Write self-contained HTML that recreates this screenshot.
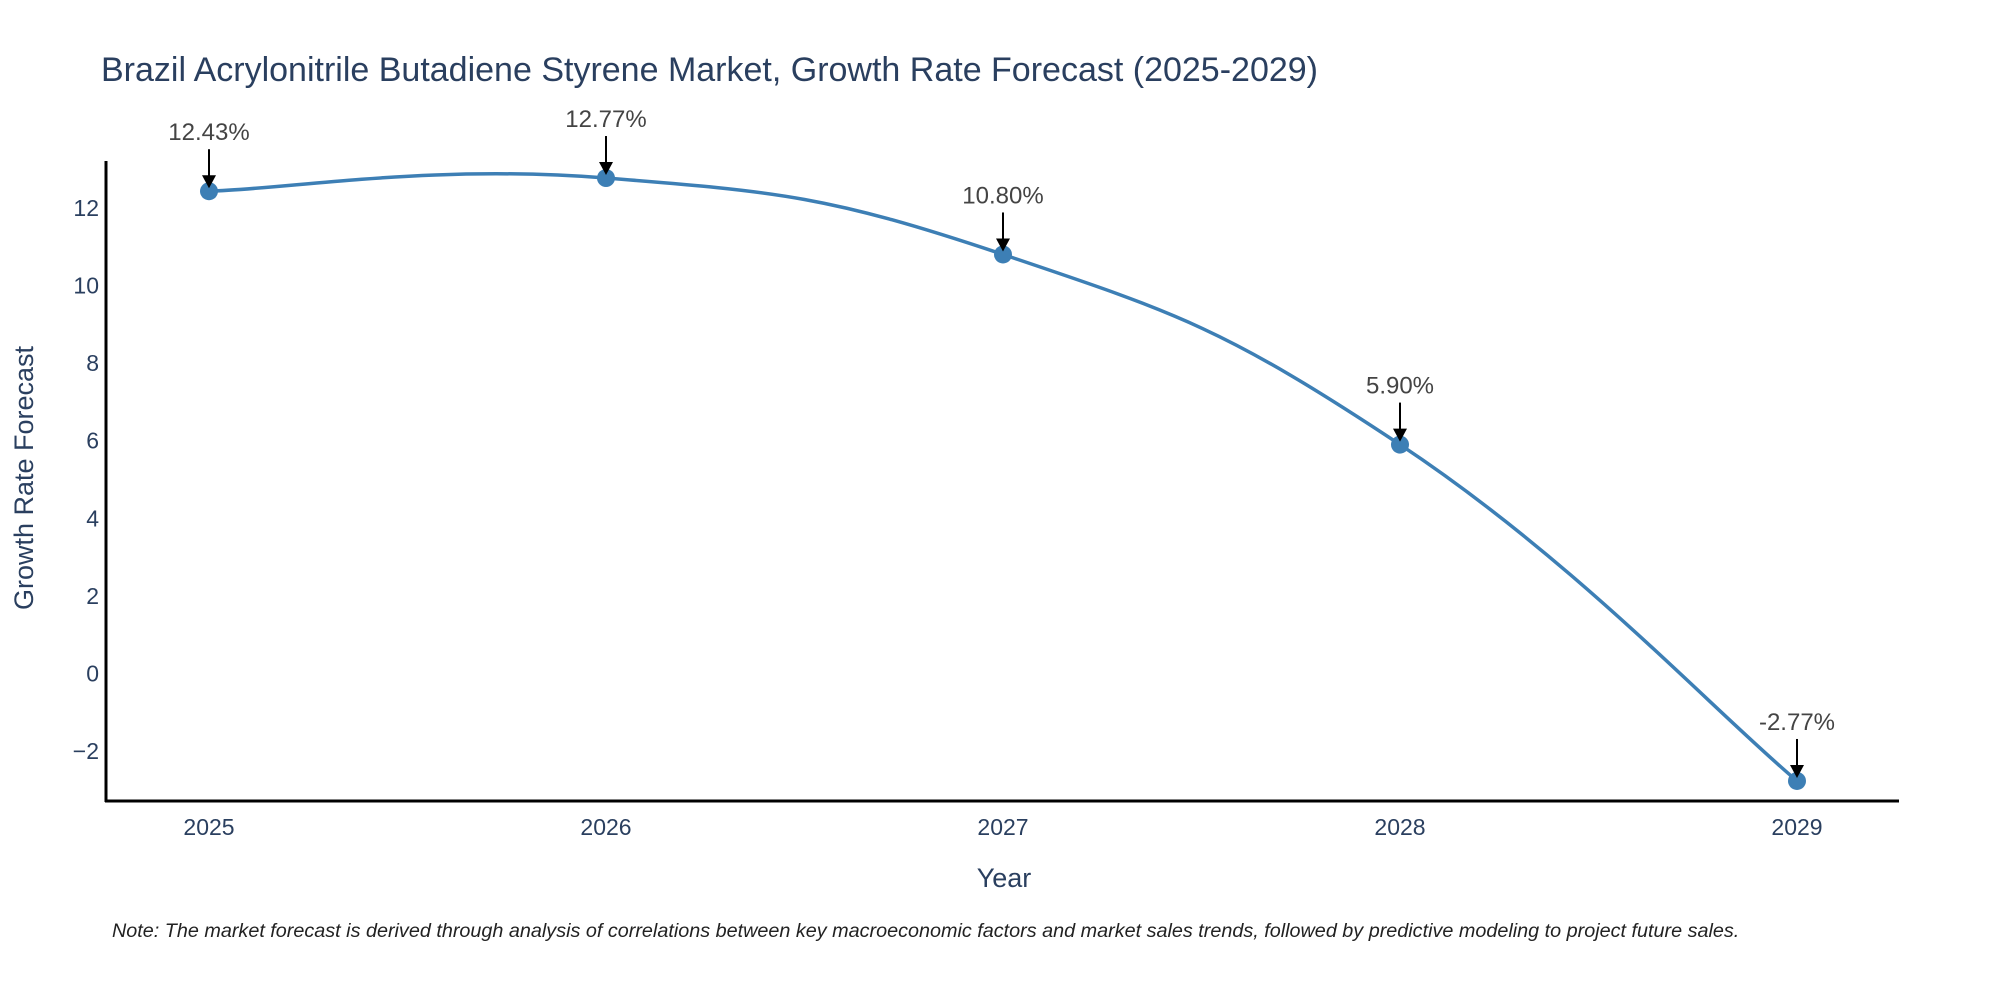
<!DOCTYPE html>
<html><head><meta charset="utf-8"><style>
body{margin:0;background:#fff;}
svg{display:block;font-family:"Liberation Sans",sans-serif;}
</style></head><body>
<svg id="chart" width="2000" height="1000">
<text x="101" y="81" font-size="34" fill="#2a3f5f">Brazil Acrylonitrile Butadiene Styrene Market, Growth Rate Forecast (2025-2029)</text>
<g id="yticks"></g>
<g id="xticks"></g>
<line x1="106" y1="161" x2="106" y2="802" stroke="#000" stroke-width="3"/>
<line x1="105" y1="801" x2="1899" y2="801" stroke="#000" stroke-width="3"/>
<path id="line" fill="none" stroke="#3d7fb5" stroke-width="3.5"/>
<g id="points"></g>
<g id="annots"></g>
<text x="1004" y="887" font-size="27" fill="#2a3f5f" text-anchor="middle">Year</text>
<text transform="translate(33,478) rotate(-90)" font-size="27" fill="#2a3f5f" text-anchor="middle">Growth Rate Forecast</text>
<text x="112" y="937" font-size="19.8" font-style="italic" fill="#222">Note: The market forecast is derived through analysis of correlations between key macroeconomic factors and market sales trends, followed by predictive modeling to project future sales.</text>
</svg>
<script>
const years=[2025,2026,2027,2028,2029];
const values=[12.43,12.77,10.80,5.90,-2.77];
const labels=["12.43%","12.77%","10.80%","5.90%","-2.77%"];
const yTicks=[-2,0,2,4,6,8,10,12];
const NS="http://www.w3.org/2000/svg";
function xs(v){return 209+(v-2025)*397;}
function ys(v){return 673.5-v*38.8;}
function mk(t,a,p){const e=document.createElementNS(NS,t);for(const k in a)e.setAttribute(k,a[k]);p.appendChild(e);return e;}
const yt=document.getElementById('yticks');
yTicks.forEach(t=>{const e=mk('text',{x:99,y:ys(t)+8,'font-size':23,fill:'#2a3f5f','text-anchor':'end'},yt);


e.textContent=t<0?'\u2212'+(-t):String(t);});
const xt=document.getElementById('xticks');
years.forEach(y=>{const e=mk('text',{x:xs(y),y:835,'font-size':23,fill:'#2a3f5f','text-anchor':'middle'},xt);


e.textContent=String(y);});
const P=years.map((y,i)=>[xs(y),ys(values[i])]);
let d='M'+P[0][0]+','+P[0][1];
const k=0.22;
for(let i=0;i<P.length-1;i++){const p0=P[Math.max(0,i-1)],p1=P[i],p2=P[i+1],p3=P[Math.min(P.length-1,i+2)];
const c1=[p1[0]+(p2[0]-p0[0])*k,p1[1]+(p2[1]-p0[1])*k],c2=[p2[0]-(p3[0]-p1[0])*k,p2[1]-(p3[1]-p1[1])*k];
d+=' C'+c1+' '+c2+' '+p2;}
document.getElementById('line').setAttribute('d',d);
const pts=document.getElementById('points'),an=document.getElementById('annots');
P.forEach((p,i)=>{const c=mk('circle',{cx:p[0],cy:p[1],r:9,fill:'#3d7fb5'},pts);


const l=mk('line',{x1:p[0],y1:p[1]-42,x2:p[0],y2:p[1]-12,stroke:'#000','stroke-width':2},an);


const h=mk('polygon',{points:`${p[0]-7},${p[1]-16} ${p[0]+7},${p[1]-16} ${p[0]},${p[1]-3}`,fill:'#000'},an);


const t=mk('text',{x:p[0],y:p[1]-51,'font-size':24,fill:'#444','text-anchor':'middle'},an);


t.textContent=labels[i];});
</script>
</body></html>
